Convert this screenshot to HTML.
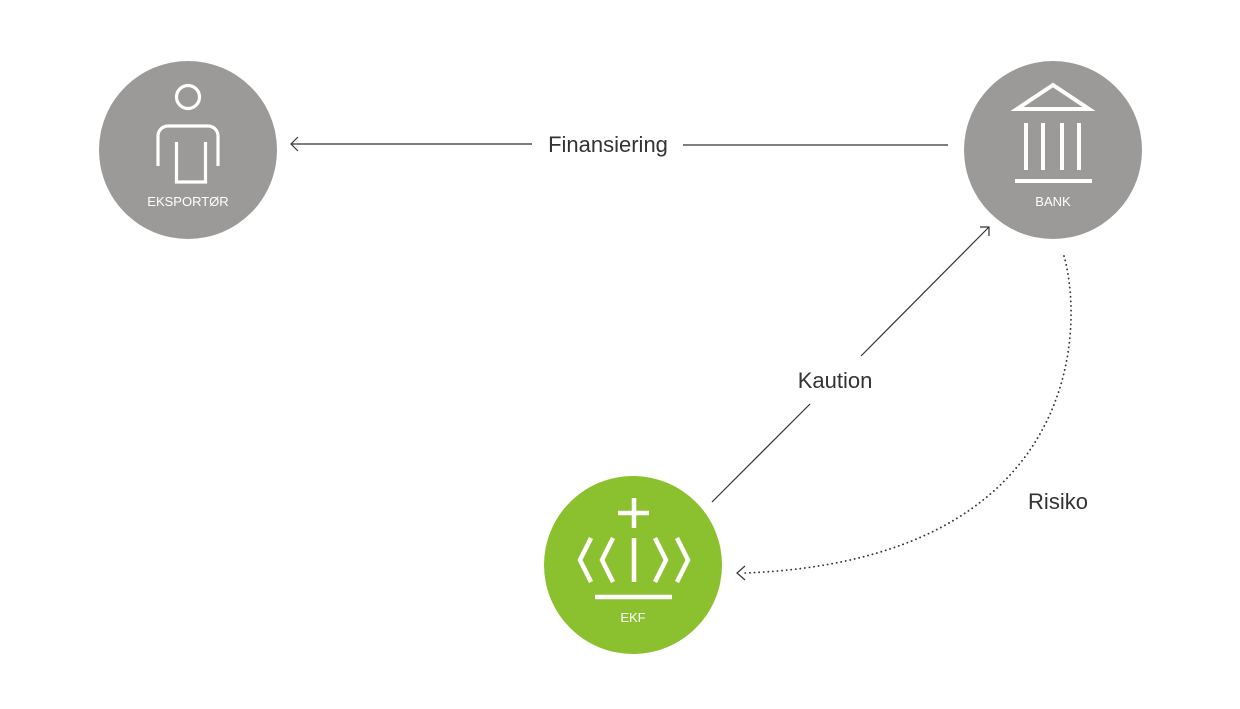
<!DOCTYPE html>
<html><head><style>
html,body{margin:0;padding:0;background:#fff;}
svg{display:block;}
</style></head><body>
<svg width="1240" height="709" viewBox="0 0 1240 709" xmlns="http://www.w3.org/2000/svg" font-family="Liberation Sans, sans-serif">
<!-- Eksportør -->
<circle cx="188" cy="150" r="89" fill="#9b9a98"/>
<g fill="none" stroke="#fff" stroke-width="3.2">
<circle cx="188" cy="97" r="11.5"/>
<path d="M158,166 V136 A10,10 0 0 1 168,126 H208 A10,10 0 0 1 218,136 V166"/>
<path d="M176.5,142 V182 H205.5 V142"/>
</g>
<text x="188" y="206" fill="#fff" font-size="13" text-anchor="middle">EKSPORTØR</text>
<!-- Bank -->
<circle cx="1053" cy="150" r="89" fill="#9b9a98"/>
<g fill="none" stroke="#fff" stroke-width="4">
<path d="M1017,109 L1053,85 L1089,109 Z" stroke-linejoin="miter"/>
<line x1="1026" y1="123" x2="1026" y2="170"/>
<line x1="1043" y1="123" x2="1043" y2="170"/>
<line x1="1062" y1="123" x2="1062" y2="170"/>
<line x1="1079" y1="123" x2="1079" y2="170"/>
<line x1="1015" y1="181" x2="1092" y2="181"/>
</g>
<text x="1053" y="206" fill="#fff" font-size="13" text-anchor="middle">BANK</text>
<!-- EKF -->
<circle cx="633" cy="565" r="89" fill="#8bc02e"/>
<g fill="none" stroke="#fff" stroke-width="4.5">
<line x1="634" y1="498" x2="634" y2="528"/>
<line x1="618" y1="513" x2="649" y2="513"/>
<line x1="634" y1="538" x2="634" y2="582"/>
<polyline points="591,538 580,560 591,582" stroke-linejoin="miter"/>
<polyline points="613,538 602,560 613,582" stroke-linejoin="miter"/>
<polyline points="655,538 666,560 655,582" stroke-linejoin="miter"/>
<polyline points="677,538 688,560 677,582" stroke-linejoin="miter"/>
<line x1="595" y1="597" x2="672" y2="597"/>
</g>
<text x="633" y="622" fill="#fff" font-size="13" text-anchor="middle">EKF</text>
<!-- Connectors -->
<g stroke="#333" stroke-width="1.2" fill="none">
<line x1="291" y1="144" x2="532" y2="144"/>
<polyline points="298,137 291,144 298,151"/>
<line x1="683" y1="145" x2="948" y2="145"/>
<line x1="712" y1="502" x2="810" y2="404"/>
<line x1="861" y1="356" x2="989" y2="227"/>
<polyline points="980,227 989,227 989,236"/>
<path d="M1064,256 C1085,330 1080,560 745,573" stroke-dasharray="0.1 4.5" stroke-linecap="round" stroke-width="1.8"/>
<polyline points="745,566 737,573 745,580"/>
</g>
<g fill="#333" font-size="22">
<text x="608" y="152" text-anchor="middle">Finansiering</text>
<text x="835" y="388" text-anchor="middle">Kaution</text>
<text x="1058" y="509" text-anchor="middle">Risiko</text>
</g>
</svg>
</body></html>
